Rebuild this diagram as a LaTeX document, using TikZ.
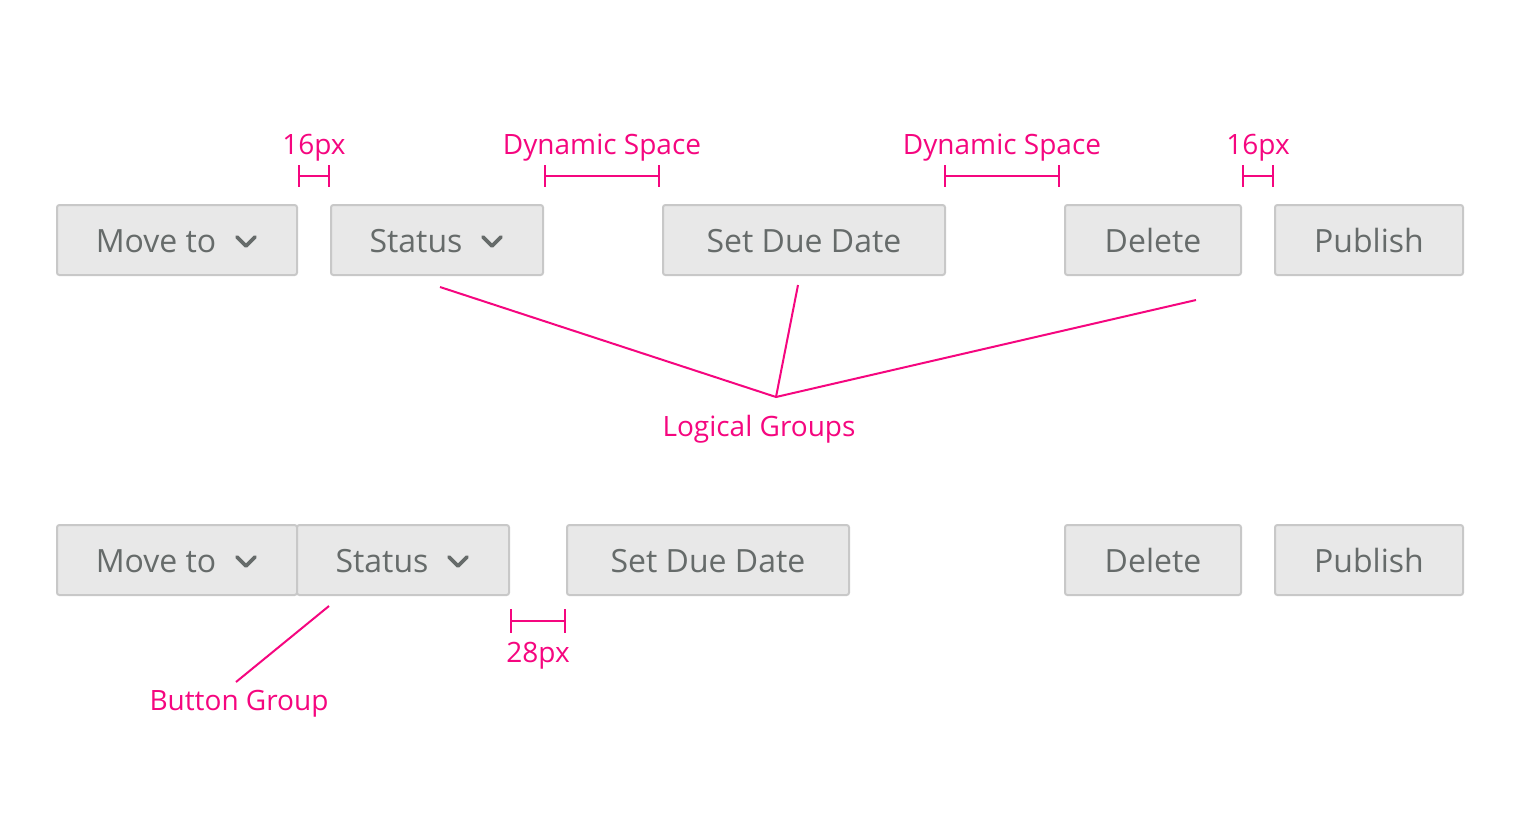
\documentclass[tikz,border=0pt]{standalone}
\usepackage{fontspec}
\setmainfont{Open Sans}
\definecolor{btnfill}{HTML}{E8E8E8}
\definecolor{btnline}{HTML}{C8C8C8}
\definecolor{btntext}{HTML}{666B6A}
\definecolor{mag}{HTML}{F5067F}
\newcommand{\btnfont}{\fontsize{16}{19}\selectfont}
\begin{document}
\begin{tikzpicture}[x=0.5pt,y=-0.5pt,
  btn/.style={draw=btnline,fill=btnfill,line width=1pt,rounded corners=1.2pt,minimum height=35pt,inner sep=0pt},
  btxt/.style={text=btntext,font=\btnfont,inner sep=0pt,anchor=base},
  chev/.style={draw=btntext,line width=1.9pt,line cap=round,line join=round},
  mline/.style={draw=mag,line width=1pt},
  mtxt/.style={text=mag,font=\fontsize{14}{17}\selectfont,inner sep=0pt,anchor=base}]
\useasboundingbox (0,0) rectangle (1520,826);
% Row 1
\node[btn,minimum width=120pt] (m1) at (177,240) {};
\node[btn,minimum width=106pt] (s1) at (437,240) {};
\node[btn,minimum width=141pt] (d1) at (804,240) {};
\node[btn,minimum width=88pt] (e1) at (1153,240) {};
\node[btn,minimum width=94pt] (p1) at (1369,240) {};
\node[btxt] (m1t) at (156,252.5) {Move to};
\node[btxt] (s1t) at (416,252.5) {Status};
\node[btxt] (d1t) at (804,252.5) {Set Due Date};
\node[btxt] (e1t) at (1153,252.5) {Delete};
\node[btxt] (p1t) at (1369,252.5) {Publish};
\draw[chev] (237,237) -- (246,246) -- (255,237);
\draw[chev] (483,237) -- (492,246) -- (501,237);
% Row 2
\node[btn,minimum width=120pt] (m2) at (177,560) {};
\node[btn,minimum width=106pt] (s2) at (403,560) {};
\node[btn,minimum width=141pt] (d2) at (708,560) {};
\node[btn,minimum width=88pt] (e2) at (1153,560) {};
\node[btn,minimum width=94pt] (p2) at (1369,560) {};
\node[btxt] (m2t) at (156,572.5) {Move to};
\node[btxt] (s2t) at (382,572.5) {Status};
\node[btxt] (d2t) at (708,572.5) {Set Due Date};
\node[btxt] (e2t) at (1153,572.5) {Delete};
\node[btxt] (p2t) at (1369,572.5) {Publish};
\draw[chev] (237,557) -- (246,566) -- (255,557);
\draw[chev] (449,557) -- (458,566) -- (467,557);
% Dimension markers row 1
\coordinate (a1) at (299,176); \coordinate (a2) at (329,176);
\draw[mline] (a1) -- (a2) (299,165) -- (299,187) (329,165) -- (329,187);
\node[mtxt] (l16a) at (314,154) {16px};
\coordinate (b1) at (545,176); \coordinate (b2) at (659,176);
\draw[mline] (b1) -- (b2) (545,165) -- (545,187) (659,165) -- (659,187);
\node[mtxt] (lds1) at (602,154) {Dynamic Space};
\coordinate (c1) at (945,176); \coordinate (c2) at (1059,176);
\draw[mline] (c1) -- (c2) (945,165) -- (945,187) (1059,165) -- (1059,187);
\node[mtxt] (lds2) at (1002,154) {Dynamic Space};
\coordinate (d1a) at (1243,176); \coordinate (d2a) at (1273,176);
\draw[mline] (d1a) -- (d2a) (1243,165) -- (1243,187) (1273,165) -- (1273,187);
\node[mtxt] (l16b) at (1258,154) {16px};
% Logical groups
\coordinate (g0) at (776,397);
\coordinate (g1) at (440,287);
\coordinate (g2) at (798,285);
\coordinate (g3) at (1196,300);
\draw[mline,line join=miter] (g1) -- (g0) -- (g3);
\draw[mline] (g2) -- (g0);
\node[mtxt] (lg) at (759,436) {Logical Groups};
% Row 2 markers
\coordinate (e1a) at (511,621); \coordinate (e2a) at (565,621);
\draw[mline] (e1a) -- (e2a) (511,609) -- (511,633) (565,609) -- (565,633);
\node[mtxt] (l28) at (538,662) {28px};
\coordinate (bg1) at (329,606); \coordinate (bg2) at (236,682);
\draw[mline] (bg1) -- (bg2);
\node[mtxt] (lbg) at (239,710) {Button Group};
\end{tikzpicture}
\end{document}
